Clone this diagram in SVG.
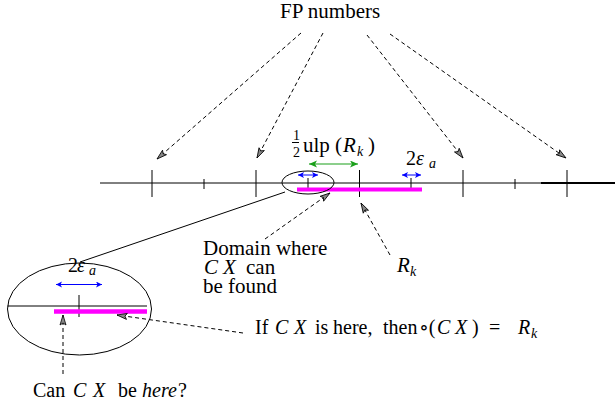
<svg xmlns="http://www.w3.org/2000/svg" width="615" height="408" viewBox="0 0 615 408">
<style>
text{font-family:"Liberation Serif","Times New Roman",Times,"DejaVu Serif",serif;font-size:20px;fill:#000}
.it{font-style:italic}
.sub{font-size:14px;font-style:italic}
.ln{stroke:#000;stroke-width:1;fill:none}
.dash{stroke:#000;stroke-width:1;fill:none;stroke-dasharray:4,3;marker-end:url(#ah)}
.mag{stroke:#ff00ff;stroke-width:4;fill:none}
.blue{stroke:#0000ff;stroke-width:1;fill:none;marker-start:url(#bh);marker-end:url(#bh)}
.green{stroke:#1aa01a;stroke-width:1.2;fill:none;marker-start:url(#gh);marker-end:url(#gh)}
</style>
<defs>
<marker id="ah" markerUnits="userSpaceOnUse" markerWidth="14" markerHeight="10" refX="11" refY="4" orient="auto">
<path d="M1,1 L11,4 L1,7 L3,4 z" fill="#888" stroke="#000" stroke-width="0.8"/>
</marker>
<marker id="bh" markerUnits="userSpaceOnUse" markerWidth="10" markerHeight="8" refX="6" refY="3" orient="auto-start-reverse">
<path d="M0,0 L6,3 L0,6 L1.5,3 z" fill="#0000ff"/>
</marker>
<marker id="gh" markerUnits="userSpaceOnUse" markerWidth="12" markerHeight="8" refX="8" refY="3.5" orient="auto-start-reverse">
<path d="M0,0 L8,3.5 L0,7 L2,3.5 z" fill="#1aa01a"/>
</marker>
</defs>

<g id="axis">
<line class="ln" x1="100" y1="183" x2="615" y2="183"/>
<line x1="541" y1="183" x2="615" y2="183" stroke="#000" stroke-width="2"/>
<line class="ln" x1="152" y1="170" x2="152" y2="197"/>
<line class="ln" x1="204" y1="179" x2="204" y2="189"/>
<line class="ln" x1="256" y1="170" x2="256" y2="197"/>
<line class="ln" x1="359.5" y1="170" x2="359.5" y2="197"/>
<line class="ln" x1="463" y1="170" x2="463" y2="197"/>
<line class="ln" x1="515" y1="179" x2="515" y2="189"/>
<line class="ln" x1="567" y1="170" x2="567" y2="197"/>
<line class="ln" x1="308" y1="178" x2="308" y2="189"/>
<line class="ln" x1="411" y1="178" x2="411" y2="189"/>
<line class="mag" x1="297" y1="189.5" x2="422" y2="189.5"/>
<line class="blue" x1="298" y1="175" x2="318" y2="175"/>
<line class="blue" x1="402" y1="175" x2="421" y2="175"/>
<line class="green" x1="309" y1="164" x2="358" y2="164"/>
</g>

<g id="small-ellipse">
<ellipse class="ln" cx="308" cy="182.5" rx="26" ry="11.5"/>
</g>

<g id="zoom-ellipse">
<ellipse class="ln" cx="79.5" cy="309" rx="72" ry="46"/>
<line class="ln" x1="7.5" y1="306" x2="147" y2="306"/>
<line class="ln" x1="79" y1="295" x2="79" y2="317"/>
<line x1="54" y1="311.5" x2="147" y2="311.5" stroke="#ff00ff" stroke-width="4.5"/>
<line class="blue" x1="56" y1="284.5" x2="102" y2="284.5"/>
<text x="68" y="272">2<tspan class="it" x="77">ε</tspan><tspan class="sub" x="89" y="275">a</tspan></text>
</g>

<g id="connectors">
<line class="ln" x1="80" y1="262" x2="285" y2="192"/>
<line class="dash" x1="301" y1="33" x2="157" y2="159"/>
<line class="dash" x1="323" y1="33" x2="257" y2="158"/>
<line class="dash" x1="367" y1="35" x2="463" y2="158"/>
<line class="dash" x1="390" y1="34" x2="566" y2="158"/>
<line class="dash" x1="265" y1="239" x2="330" y2="193"/>
<line class="dash" x1="390" y1="255" x2="361" y2="203"/>
<line class="dash" x1="243" y1="333" x2="117" y2="315"/>
<line class="dash" x1="63" y1="374" x2="63" y2="315"/>
</g>

<g id="labels">
<text x="280" y="18" style="font-size:21px">FP numbers</text>
<text x="293" y="140" style="font-size:14px">1</text>
<line class="ln" x1="292" y1="142.5" x2="299" y2="142.5"/>
<text x="293" y="157" style="font-size:14px">2</text>
<text x="303" y="152" style="font-size:21px">ulp<tspan x="335">(</tspan><tspan class="it" x="343">R</tspan><tspan class="sub" x="357" y="156">k</tspan><tspan x="368" y="152">)</tspan></text>
<text x="406" y="165">2<tspan class="it" x="416">ε</tspan><tspan class="sub" x="429" y="168">a</tspan></text>
<text x="203" y="255" style="font-size:21px">Domain where</text>
<text x="204" y="274" style="font-size:21px"><tspan class="it">C</tspan><tspan class="it" x="223">X</tspan><tspan x="246">can</tspan></text>
<text x="203" y="293" style="font-size:21px">be found</text>
<text x="397" y="272" style="font-size:21px"><tspan class="it">R</tspan><tspan class="sub" x="410" y="276">k</tspan></text>
<text x="255" y="334">If<tspan class="it" x="275">C</tspan><tspan class="it" x="294">X</tspan><tspan x="315">is</tspan><tspan x="333">here,</tspan><tspan x="383">then</tspan><tspan x="419">∘(</tspan><tspan class="it" x="437">C</tspan><tspan class="it" x="455">X</tspan><tspan x="472">)</tspan><tspan x="489">=</tspan><tspan class="it" x="518">R</tspan><tspan class="sub" x="531" y="338">k</tspan></text>
<text x="33" y="397">Can<tspan class="it" x="73">C</tspan><tspan class="it" x="93">X</tspan><tspan x="118">be</tspan><tspan class="it" x="142">here</tspan><tspan x="178">?</tspan></text>
</g>
</svg>
